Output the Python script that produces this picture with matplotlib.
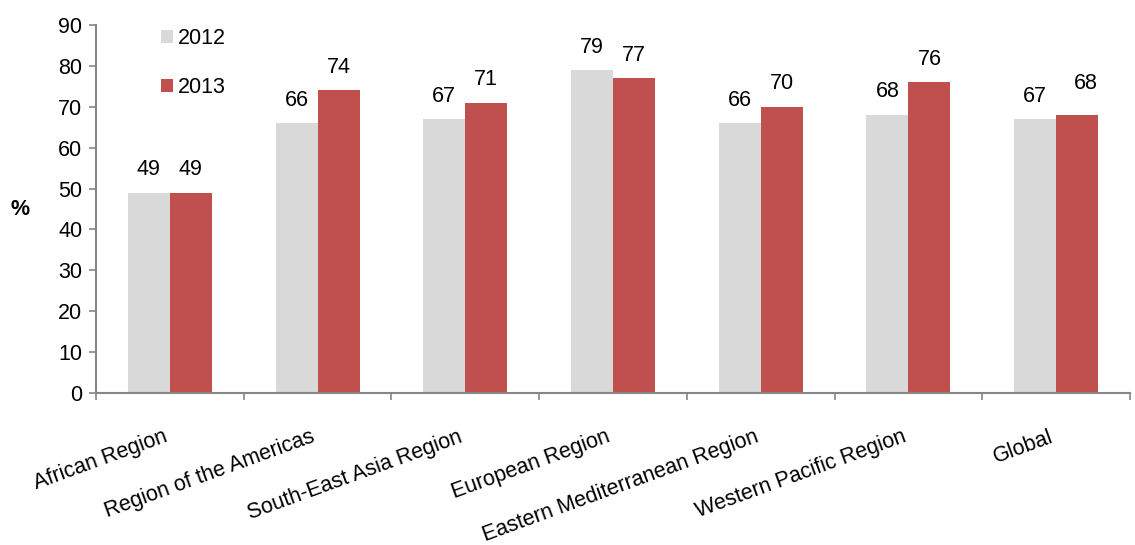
import numpy as np
import matplotlib.pyplot as plt
import matplotlib.transforms as mtransforms

plt.rcParams['font.family'] = ['Liberation Sans', 'DejaVu Sans']

# Data
regions = ['African Region', 'Region of the Americas', 'South-East Asia Region',
           'European Region', 'Eastern Mediterranean Region', 'Western Pacific Region',
           'Global']
vals_2012 = [49, 66, 67, 79, 66, 68, 67]
vals_2013 = [49, 74, 71, 77, 70, 76, 68]

grey = '#D9D9D9'
red = '#C0504D'
axis_col = '#868686'
fs = 15.5

fig = plt.figure(figsize=(11.35, 5.45), dpi=100)
ax = fig.add_axes([0.0846, 0.279, 0.911, 0.675])

x = np.arange(len(regions))
w = 0.284
ax.bar(x - w / 2, vals_2012, w, color=grey, label='2012')
ax.bar(x + w / 2, vals_2013, w, color=red, label='2013')

# value labels
for i, v in enumerate(vals_2012):
    ax.annotate(str(v), (x[i] - w / 2, v), xytext=(0, 9), textcoords='offset points',
                ha='center', va='bottom', fontsize=fs)
for i, v in enumerate(vals_2013):
    dx, dy = 0, 9
    if i == len(regions) - 1:
        dx, dy = 6, 15
    ax.annotate(str(v), (x[i] + w / 2, v), xytext=(dx, dy), textcoords='offset points',
                ha='center', va='bottom', fontsize=fs)

ax.set_xlim(-0.5, len(regions) - 0.5)
ax.set_ylim(0, 90)
ax.set_yticks(range(0, 91, 10))
ax.tick_params(axis='y', labelsize=fs, color=axis_col, length=5, width=1.2, pad=5)

# category boundaries as ticks
ax.set_xticks(np.arange(-0.5, len(regions), 1.0))
ax.set_xticklabels([])
ax.tick_params(axis='x', color=axis_col, length=5, width=1.2)
ax.set_xticks(x, minor=True)
ax.set_xticklabels(regions, minor=True, rotation=20, ha='right',
                   rotation_mode='anchor', fontsize=fs)
ax.tick_params(axis='x', which='minor', length=0, pad=24)
shift = mtransforms.ScaledTranslation(-7 / 100, 0, fig.dpi_scale_trans)
for lbl in ax.get_xticklabels(minor=True):
    lbl.set_transform(lbl.get_transform() + shift)

for s in ['top', 'right']:
    ax.spines[s].set_visible(False)
for s in ['left', 'bottom']:
    ax.spines[s].set_color(axis_col)
    ax.spines[s].set_linewidth(1.5)

ax.set_ylabel('%', fontsize=fs, fontweight='bold', rotation=0, labelpad=27, va='center')

ax.legend(loc='upper left', bbox_to_anchor=(0.044, 1.045), frameon=False, fontsize=fs,
          handlelength=0.55, handleheight=0.55, handletextpad=0.25, labelspacing=1.3)

fig.savefig('out.png', dpi=100)
